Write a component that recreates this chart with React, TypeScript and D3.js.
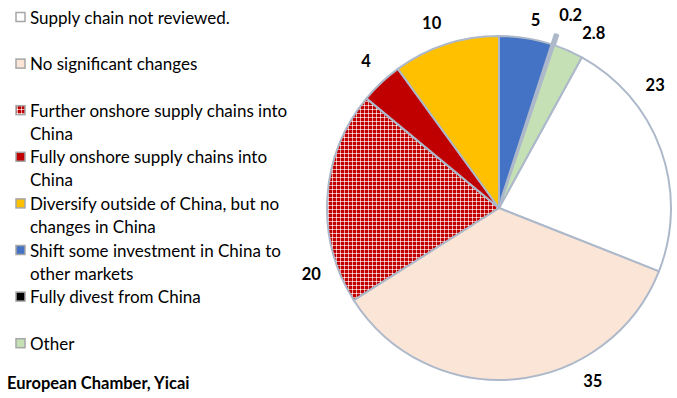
import * as d3 from 'd3';
import React from 'react';

const categories = [
  "Supply chain not reviewed.",
  "No significant changes",
  "Further onshore supply chains into China",
  "Fully onshore supply chains into China",
  "Diversify outside of China, but no changes in China",
  "Shift some investment in China to other markets",
  "Fully divest from China",
  "Other",
];
const legendLines = [
  ["Supply chain not reviewed."],
  ["No significant changes"],
  ["Further onshore supply chains into", "China"],
  ["Fully onshore supply chains into", "China"],
  ["Diversify outside of China, but no", "changes in China"],
  ["Shift some investment in China to", "other markets"],
  ["Fully divest from China"],
  ["Other"],
];
const values = [23, 35, 20, 4, 10, 5, 0.2, 2.8];
const valueLabels = ["23", "35", "20", "4", "10", "5", "0.2", "2.8"];
const source = "European Chamber, Yicai";

const colors = ["#FFFFFF", "#FBE5D6", "url(#redCheck)", "#C00000", "#FFC000", "#4472C4", "#000000", "#C5E0B4"];
// label placement: degrees shift from slice mid angle, and radius
const labelShift = [-18.5, -23, -23, 1, -2, 2, 2, 4.7];
const labelRadius = [199, 197, 199, 198, 197, 192, 206, 199];
const explode = [0, 0, 0, 0, 0, 0, 10, 0];

const W = 677;
const H = 398;
const cx = 499;
const cy = 208;
const r = 172;
const edge = "#ADB9CA";
const font = "Lato, 'Open Sans', sans-serif";

export default function App() {
  const total = d3.sum(values);
  // Excel first slice angle: the last three slices wrap round to the top
  const offset = (d3.sum(values.slice(5)) / total) * Math.PI * 2;
  const pie = d3.pie<number>().sort(null).startAngle(offset).endAngle(offset + Math.PI * 2);
  const arcs = pie(values);
  const arc = d3.arc<d3.PieArcDatum<number>>().innerRadius(0).outerRadius(r);

  return (
    <svg width={W} height={H} style={{ position: "absolute", left: 0, top: 0, background: "#fff" }}>
      <defs>
        <pattern id="redCheck" width="4" height="4" patternUnits="userSpaceOnUse">
          <rect width="4" height="4" fill="#C00000" />
          <rect x="0" y="1" width="4" height="1" fill="#EBA0A0" />
          <rect x="1" y="0" width="1" height="4" fill="#EBA0A0" />
          <rect x="1" y="1" width="1" height="1" fill="#FFFFFF" />
        </pattern>
      </defs>
      <g transform={`translate(${cx},${cy})`}>
        {arcs.map((a, i) => {
          const mid = (a.startAngle + a.endAngle) / 2;
          const dx = Math.sin(mid) * explode[i];
          const dy = -Math.cos(mid) * explode[i];
          return (
            <path
              key={i}
              d={arc(a) || ""}
              transform={`translate(${dx},${dy})`}
              fill={colors[i]}
              stroke={edge}
              strokeWidth={i === 6 ? 3.5 : 2}
              strokeLinejoin="round"
            />
          );
        })}
        {arcs.map((a, i) => {
          const ang = (a.startAngle + a.endAngle) / 2 + (labelShift[i] * Math.PI) / 180;
          return (
            <text
              key={i}
              x={Math.sin(ang) * labelRadius[i]}
              y={-Math.cos(ang) * labelRadius[i]}
              textAnchor="middle"
              dominantBaseline="central"
              fontFamily={font}
              fontWeight="bold"
              fontSize={16.5}
              fill="#000"
            >
              {valueLabels[i]}
            </text>
          );
        })}
      </g>
      <g>
        {categories.map((c, i) => {
          const y = 17 + i * 46.6;
          return (
            <g key={c}>
              <rect x={16} y={y - 4.5} width={9} height={9} fill={colors[i]} stroke="#A6A6A6" strokeWidth={1.5} />
              {legendLines[i].map((ln, j) => (
                <text
                  key={j}
                  x={30}
                  y={y + j * 23}
                  dominantBaseline="central"
                  fontFamily={font}
                  fontSize={17}
                  fill="#000"
                >
                  {ln}
                </text>
              ))}
            </g>
          );
        })}
        <text x={7} y={383} dominantBaseline="central" fontFamily={font} fontWeight="bold" fontSize={16.5} fill="#000">
          {source}
        </text>
      </g>
    </svg>
  );
}
